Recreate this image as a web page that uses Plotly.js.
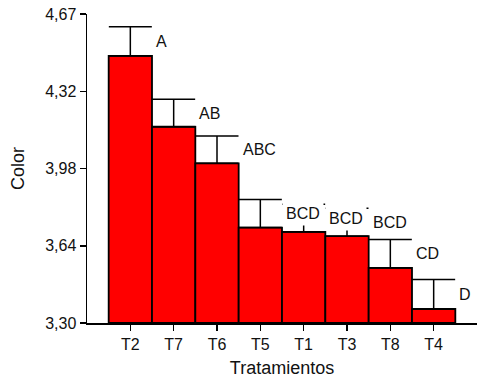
<!DOCTYPE html>
<html>
<head>
<meta charset="utf-8">
<script src="https://cdn.plot.ly/plotly-3.0.1.min.js"></script>
<style>
  html, body { margin: 0; padding: 0; background: #fff; }
  #chart { width: 477px; height: 383px; }
</style>
</head>
<body>
<div id="chart"></div>
<script>
// Data
const categories = ["T2", "T7", "T6", "T5", "T1", "T3", "T8", "T4"];
const means      = [4.484, 4.170, 4.008, 3.723, 3.704, 3.685, 3.544, 3.362];
const errors     = [0.130, 0.122, 0.121, 0.125, 0.123, 0.124, 0.126, 0.131];
const letters    = ["A", "AB", "ABC", "BCD", "BCD", "BCD", "CD", "D"];
const yTickVals  = [3.30, 3.6425, 3.985, 4.3275, 4.67];
const yTickText  = ["3,30", "3,64", "3,98", "4,32", "4,67"];

const FONT = "Liberation Sans, Arial, sans-serif";
const idx = categories.map((c, i) => i);

const trace = {
  type: "bar",
  x: idx,
  y: means.map(v => v - 3.30),
  base: 3.30,
  marker: { color: "#ff0000", line: { color: "#000000", width: 1.8 } },
  width: 1,
  error_y: {
    type: "data",
    symmetric: false,
    array: errors,
    arrayminus: errors.map(() => 0),
    color: "#000000",
    thickness: 1.5,
    width: 21.5
  },
  hoverinfo: "skip"
};

const annotations = categories.map((c, i) => ({
  x: i + 0.5,
  y: means[i] + errors[i] / 2,
  xref: "x",
  yref: "y",
  text: letters[i],
  showarrow: false,
  xanchor: "left",
  yanchor: "middle",
  xshift: 0,
  borderpad: 3,
  bgcolor: "#ffffff",
  font: { family: FONT, size: 16, color: "#111111" }
}));

const layout = {
  width: 477,
  height: 383,
  margin: { l: 87, r: 0, t: 14, b: 60, pad: 0 },
  paper_bgcolor: "#ffffff",
  plot_bgcolor: "#ffffff",
  showlegend: false,
  bargap: 0,
  font: { family: FONT, size: 16, color: "#111111" },
  xaxis: {
    range: [-1, 8],
    tickvals: idx,
    ticktext: categories,
    showline: true,
    linecolor: "#000000",
    linewidth: 1.5,
    ticks: "outside",
    ticklen: 6,
    tickwidth: 1.5,
    tickcolor: "#000000",
    showgrid: false,
    zeroline: false,
    tickfont: { family: FONT, size: 16, color: "#111111" },
    title: { text: "Tratamientos", font: { family: FONT, size: 18, color: "#111111" }, standoff: 9 }
  },
  yaxis: {
    range: [3.30, 4.67],
    tickvals: yTickVals,
    ticktext: yTickText,
    showline: true,
    linecolor: "#000000",
    linewidth: 1.5,
    ticks: "outside",
    ticklen: 6,
    tickwidth: 1.5,
    tickcolor: "#000000",
    showgrid: false,
    zeroline: false,
    tickfont: { family: FONT, size: 16, color: "#111111" },
    title: { text: "Color", font: { family: FONT, size: 18, color: "#111111" }, standoff: 16 }
  },
  annotations: annotations
};

Plotly.newPlot("chart", [trace], layout, { displayModeBar: false, staticPlot: true });
</script>
</body>
</html>
